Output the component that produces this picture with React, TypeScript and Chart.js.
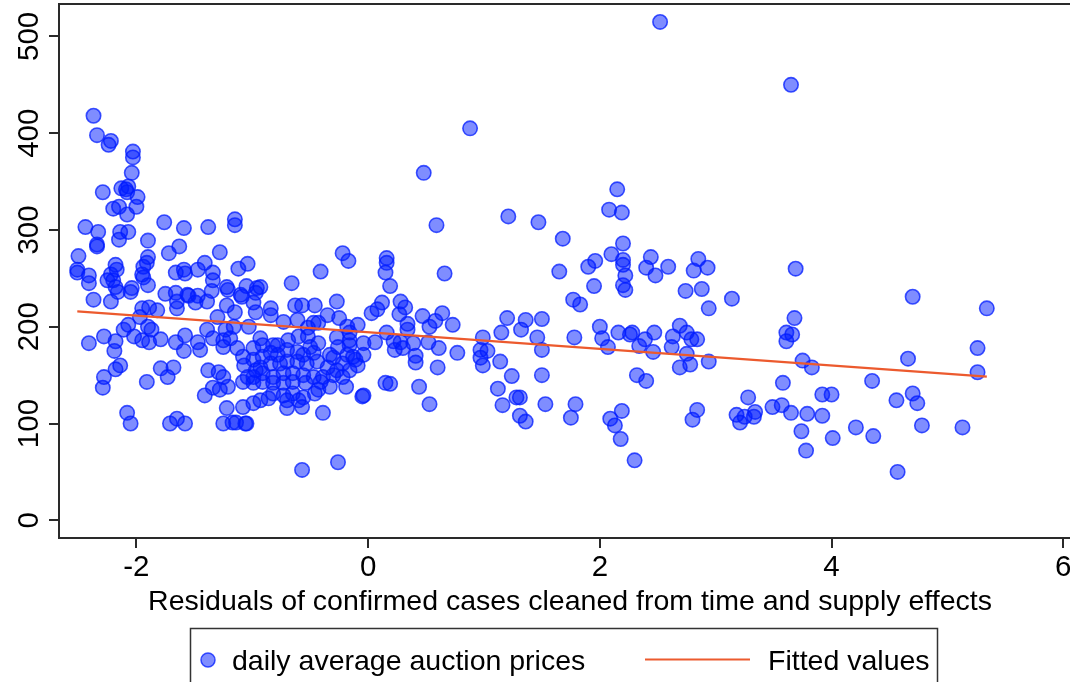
import React, { useEffect, useRef } from "react";
import { Chart, registerables } from "chart.js";

Chart.register(...registerables);

// ---------- data ----------
const seriesLabels = ["daily average auction prices", "Fitted values"];
const xAxisTitle = "Residuals of confirmed cases cleaned from time and supply effects";
const xTickValues = [-2, 0, 2, 4, 6];
const yTickValues = [0, 100, 200, 300, 400, 500];
const xRange = [-2.668, 6.058];
const yRange = [-18.3, 533.5];

// fitted values (linear fit endpoints)
const fittedX = [-2.51, 5.34];
const fittedY = [215.9, 148.4];

// observations [residual, price]
const leftObs: [number, number][] = [
  [-2.37, 418], [-2.34, 398], [-2.22, 392], [-2.24, 388], [-2.03, 381], [-2.03, 375], [-2.04, 359], [-2.29, 339],
  [-2.13, 343], [-2.07, 345], [-2.08, 339], [-2.09, 342], [-1.99, 334], [-2.0, 324], [-2.2, 322], [-2.15, 324],
  [-2.08, 316], [-1.76, 308], [-1.59, 302], [-1.38, 303], [-1.15, 311], [-1.15, 305], [-2.44, 303], [-2.33, 298],
  [-2.34, 285], [-2.34, 283], [-2.14, 298], [-2.07, 298], [-2.15, 290], [-1.9, 289], [-1.63, 283], [-1.72, 276],
  [-1.28, 277], [-2.5, 273], [-1.9, 272], [-2.51, 259], [-2.51, 256], [-2.41, 253], [-2.41, 245], [-2.18, 264],
  [-2.17, 259], [-2.22, 254], [-2.25, 248], [-2.2, 248], [-1.94, 262], [-1.91, 266], [-1.95, 254], [-1.94, 251],
  [-1.9, 243], [-1.66, 256], [-1.59, 259], [-1.58, 255], [-1.47, 259], [-1.41, 266], [-1.34, 256], [-1.34, 248],
  [-1.22, 241], [-2.04, 240], [-2.18, 241], [-1.12, 260], [-1.04, 265], [-1.05, 242], [-0.96, 240], [-0.93, 241],
  [-1.1, 233], [-0.97, 235], [-1.21, 238], [-1.35, 237], [-1.47, 232], [-1.55, 232], [-1.66, 235], [-1.75, 234],
  [-2.37, 228], [-2.22, 226], [-2.16, 236], [-2.05, 236], [-1.65, 226], [-1.65, 219], [-1.56, 233], [-1.49, 225],
  [-1.39, 226], [-1.22, 222], [-1.95, 219], [-1.89, 220], [-1.82, 217], [-1.97, 210], [-1.9, 200], [-1.87, 197],
  [-2.07, 202], [-2.11, 197], [-2.02, 190], [-1.95, 186], [-1.89, 184], [-1.79, 187], [-2.28, 190], [-2.41, 183],
  [-2.18, 185], [-2.19, 175], [-1.66, 184], [-1.58, 191], [-1.59, 175], [-1.47, 184], [-1.45, 176], [-1.3, 210],
  [-1.39, 197], [-1.34, 188], [-1.25, 186], [-2.14, 160], [-2.18, 156], [-1.79, 157], [-1.68, 158], [-1.73, 148],
  [-2.28, 148], [-2.29, 137], [-1.91, 143], [-1.38, 155], [-1.29, 153], [-1.34, 137], [-1.41, 129], [-1.28, 135],
  [-1.22, 116], [-2.08, 111], [-2.05, 100], [-1.71, 100], [-1.65, 105], [-1.58, 100], [-1.25, 100], [-1.14, 101],
  [-1.05, 100], [-0.39, 111], [-0.57, 52], [-0.26, 60], [-0.66, 245], [-0.41, 257], [-0.22, 276], [-0.17, 268],
];

const denseObs: [number, number][] = [
  [-1.09, 231], [-0.99, 225], [-1.15, 215], [-0.97, 215], [-0.84, 219], [-0.84, 212], [-0.63, 222], [-0.57, 222],
  [-0.46, 222], [-0.27, 226], [-0.35, 212], [-0.25, 209], [-0.18, 200], [-0.09, 202], [0.03, 214], [0.08, 218],
  [0.12, 225], [0.16, 194], [-0.73, 205], [-0.61, 207], [-0.47, 204], [-0.43, 204], [-0.52, 199], [-1.16, 200],
  [-1.23, 197], [-1.03, 200], [-1.19, 188], [-0.93, 188], [-1.25, 179], [-1.13, 178], [-1.08, 169], [-1.07, 160],
  [-0.99, 178], [-0.91, 181], [-0.82, 181], [-0.78, 181], [-0.69, 186], [-0.6, 190], [-0.52, 190], [-0.43, 183],
  [-0.5, 179], [-0.27, 189], [-0.26, 179], [-0.16, 186], [-0.04, 183], [0.06, 184], [-0.33, 171], [-0.18, 171],
  [-0.11, 166], [-0.04, 171], [-0.09, 160], [-0.22, 162], [-0.3, 168], [-0.99, 166], [-0.91, 169], [-0.84, 173],
  [-0.78, 171], [-0.7, 176], [-0.61, 174], [-0.56, 171], [-0.47, 173], [-0.97, 155], [-0.93, 158], [-0.84, 162],
  [-0.76, 162], [-0.7, 164], [-0.61, 164], [-0.53, 162], [-0.44, 164], [-0.35, 158], [-0.27, 155], [-0.16, 155],
  [-1.04, 148], [-1.08, 143], [-0.99, 148], [-0.91, 152], [-0.82, 148], [-0.73, 152], [-0.65, 152], [-0.56, 150],
  [-0.47, 148], [-0.39, 148], [-0.3, 150], [-0.22, 148], [-0.99, 142], [-0.91, 143], [-0.82, 142], [-0.73, 142],
  [-0.65, 143], [-0.54, 142], [-0.41, 143], [-0.33, 138], [-0.82, 131], [-0.73, 129], [-0.65, 131], [-0.46, 131],
  [-0.43, 135], [-0.56, 127], [-0.6, 124], [-0.7, 124], [-0.86, 126], [-0.93, 124], [-0.99, 121], [-1.08, 117],
  [-0.7, 116], [-0.57, 117], [-0.19, 138], [-0.04, 129], [0.15, 142], [-1.25, 148], [-1.21, 138], [-1.17, 101],
  [-1.06, 100], [-0.16, 194], [-0.16, 181], [-0.13, 169], [-0.05, 128],
];

const midObs: [number, number][] = [
  [0.16, 271], [0.16, 266], [0.15, 256], [0.19, 242], [0.28, 226], [0.32, 220], [0.27, 213], [0.47, 211],
  [0.64, 214], [0.58, 206], [0.53, 200], [0.73, 202], [0.34, 203], [0.34, 197], [0.22, 185], [0.28, 184],
  [0.23, 176], [0.3, 178], [0.39, 183], [0.41, 170], [0.41, 163], [0.52, 184], [0.61, 178], [0.77, 173],
  [0.6, 158], [0.19, 141], [0.44, 138], [0.53, 120], [0.48, 359], [0.59, 305], [0.66, 255], [0.88, 405],
  [1.21, 314], [1.47, 308], [1.68, 291], [0.99, 189], [0.97, 176], [1.03, 175], [0.97, 168], [0.99, 160],
  [1.14, 164], [1.15, 194], [1.2, 209], [1.36, 207], [1.32, 197], [1.5, 208], [1.46, 189], [1.5, 176],
  [1.5, 150], [1.24, 149], [1.12, 136], [1.16, 119], [1.28, 127], [1.31, 127], [1.31, 108], [1.36, 102],
  [1.53, 120], [1.65, 257], [1.78, 189], [1.79, 120], [1.75, 106], [1.77, 228], [1.83, 223], [1.9, 262],
  [1.96, 268], [1.95, 242], [2.1, 275], [2.08, 321], [2.19, 318], [2.15, 342], [2.2, 286], [2.2, 269],
  [2.2, 264], [2.22, 253], [2.2, 243], [2.22, 238], [2.0, 200], [2.02, 188], [2.07, 179], [2.16, 194],
  [2.26, 192], [2.28, 194], [2.32, 150], [2.09, 105], [2.13, 98], [2.19, 113], [2.18, 84], [2.3, 62],
  [2.52, 515],
];

const rightObs: [number, number][] = [
  [2.44, 272], [2.4, 261], [2.48, 253], [2.59, 262], [2.85, 270], [2.81, 258], [2.93, 261], [2.74, 237],
  [2.88, 239], [2.94, 219], [3.14, 229], [3.69, 260], [3.65, 450], [4.7, 231], [5.34, 219], [2.47, 194],
  [2.39, 187], [2.34, 180], [2.46, 174], [2.69, 201], [2.63, 190], [2.75, 194], [2.79, 187], [2.84, 187],
  [2.62, 179], [2.75, 172], [2.69, 158], [2.78, 161], [2.94, 164], [2.4, 144], [3.68, 209], [3.61, 194],
  [3.66, 192], [3.61, 185], [3.75, 165], [3.83, 158], [4.66, 167], [5.26, 178], [5.26, 153], [4.35, 144],
  [3.58, 142], [3.28, 127], [3.92, 130], [4.0, 130], [4.56, 124], [4.7, 131], [4.74, 121], [2.84, 114],
  [2.8, 104], [3.18, 109], [3.21, 101], [3.25, 107], [3.34, 112], [3.33, 107], [3.49, 117], [3.57, 119],
  [3.65, 111], [3.79, 110], [3.92, 108], [3.74, 92], [4.21, 96], [4.36, 87], [4.78, 98], [5.13, 96],
  [4.01, 85], [3.78, 72], [4.57, 50],
];

// ---------- styling ----------
const FONT = '"Liberation Sans", Arial, Helvetica, sans-serif';
const POINT_FILL = "rgba(0, 28, 255, 0.5)";
const POINT_EDGE = "rgba(0, 28, 255, 0.75)";
const LINE_COLOR = "#ec5a2e";
const AXIS_COLOR = "#2a2a2a";

const decorPlugin = {
  id: "decor",
  afterDraw(chart: any) {
    const { ctx, chartArea: a, scales } = chart;
    ctx.save();
    // top frame line
    ctx.strokeStyle = AXIS_COLOR;
    ctx.lineWidth = 2;
    ctx.beginPath();
    ctx.moveTo(a.left - 1, a.top);
    ctx.lineTo(chart.width + 2, a.top);
    ctx.stroke();

    // rotated y tick labels
    ctx.fillStyle = "#000";
    ctx.font = `29.5px ${FONT}`;
    ctx.textAlign = "center";
    ctx.textBaseline = "alphabetic";
    for (const v of yTickValues) {
      const py = scales.y.getPixelForValue(v);
      ctx.save();
      ctx.translate(37.5, py);
      ctx.rotate(-Math.PI / 2);
      ctx.fillText(String(v), 0, 0);
      ctx.restore();
    }

    // x axis title
    ctx.font = `28.5px ${FONT}`;
    ctx.textAlign = "center";
    ctx.fillText(xAxisTitle, 570, 610);

    // legend box
    ctx.strokeStyle = "#333";
    ctx.lineWidth = 1.5;
    ctx.strokeRect(190.5, 628.5, 747, 90);
    ctx.beginPath();
    ctx.arc(208, 660, 7, 0, Math.PI * 2);
    ctx.fillStyle = POINT_FILL;
    ctx.fill();
    ctx.lineWidth = 1.5;
    ctx.strokeStyle = POINT_EDGE;
    ctx.stroke();
    ctx.fillStyle = "#000";
    ctx.textAlign = "left";
    ctx.font = `28.5px ${FONT}`;
    ctx.fillText(seriesLabels[0], 232, 670);
    ctx.strokeStyle = LINE_COLOR;
    ctx.lineWidth = 2;
    ctx.beginPath();
    ctx.moveTo(645, 659.5);
    ctx.lineTo(750, 659.5);
    ctx.stroke();
    ctx.fillText(seriesLabels[1], 768, 670);
    ctx.restore();
  },
};

export default function App() {
  const canvasRef = useRef<HTMLCanvasElement | null>(null);

  useEffect(() => {
    const canvas = canvasRef.current;
    if (!canvas) return;
    const points = [...leftObs, ...denseObs, ...midObs, ...rightObs].map(([x, y]) => ({ x, y }));
    const fitted = fittedX.map((x, i) => ({ x, y: fittedY[i] }));

    const chart = new Chart(canvas, {
      type: "scatter",
      data: {
        datasets: [
          {
            type: "line",
            label: seriesLabels[1],
            data: fitted,
            borderColor: LINE_COLOR,
            borderWidth: 2.2,
            pointRadius: 0,
            fill: false,
            order: 0,
          } as any,
          {
            type: "scatter",
            label: seriesLabels[0],
            data: points,
            backgroundColor: POINT_FILL,
            borderColor: POINT_EDGE,
            borderWidth: 1.6,
            pointRadius: 7.2,
            order: 1,
          } as any,
        ],
      },
      options: {
        responsive: false,
        animation: false,
        devicePixelRatio: 1,
        layout: { padding: { top: 4, left: 0, right: 0, bottom: 0 }, autoPadding: false } as any,
        plugins: { legend: { display: false }, tooltip: { enabled: false } },
        scales: {
          x: {
            type: "linear",
            min: xRange[0],
            max: xRange[1],
            afterBuildTicks: (s: any) => {
              s.ticks = xTickValues.map((value) => ({ value }));
            },
            afterFit: (s: any) => {
              s.height = 144;
              s.paddingLeft = 0;
              s.paddingRight = 0;
            },
            grid: { drawOnChartArea: false, drawTicks: true, tickLength: 10, color: AXIS_COLOR, lineWidth: 2 },
            border: { display: true, color: AXIS_COLOR, width: 2 },
            ticks: {
              color: "#000",
              font: { family: FONT, size: 29.5 },
              padding: 2,
              maxRotation: 0,
              minRotation: 0,
              autoSkip: false,
            },
          },
          y: {
            type: "linear",
            min: yRange[0],
            max: yRange[1],
            afterBuildTicks: (s: any) => {
              s.ticks = yTickValues.map((value) => ({ value }));
            },
            afterFit: (s: any) => {
              s.width = 59;
              s.paddingTop = 0;
              s.paddingBottom = 0;
            },
            grid: { drawOnChartArea: false, drawTicks: true, tickLength: 10, color: AXIS_COLOR, lineWidth: 2 },
            border: { display: true, color: AXIS_COLOR, width: 2 },
            ticks: { display: false },
          },
        },
      },
      plugins: [decorPlugin],
    });
    return () => chart.destroy();
  }, []);

  return (
    <div style={{ position: "fixed", left: 0, top: 0, width: 1070, height: 682, background: "#fff" }}>
      <canvas ref={canvasRef} width={1070} height={682} style={{ display: "block" }} />
    </div>
  );
}
